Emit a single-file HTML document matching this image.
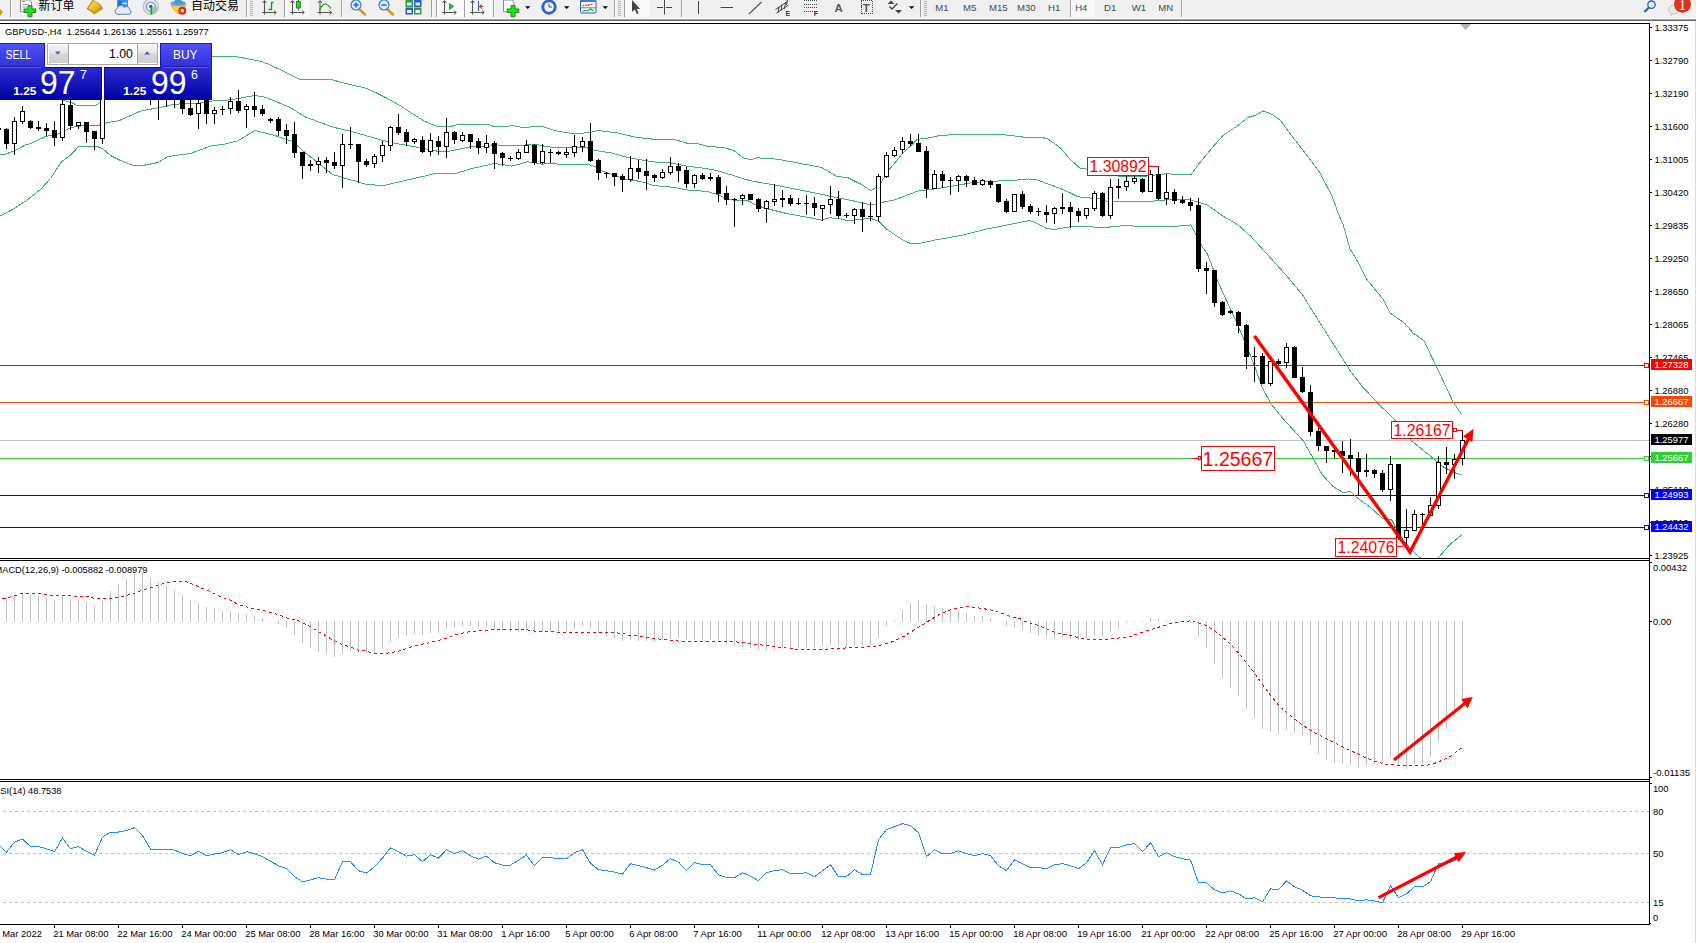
<!DOCTYPE html><html><head><meta charset="utf-8"><title>GBPUSD H4</title>
<style>html,body{margin:0;padding:0;background:#fff;}body{width:1696px;height:943px;overflow:hidden;position:relative;font-family:"Liberation Sans", sans-serif;}svg{position:absolute;left:0;top:0;display:block}text{font-family:"Liberation Sans", sans-serif;}.cj{font-family:"Liberation Sans", "Noto Sans CJK SC", sans-serif;}</style></head><body>
<svg width="1696" height="943" viewBox="0 0 1696 943">
<defs>
<clipPath id="cm"><rect x="0" y="24" width="1649" height="534"/></clipPath>
<clipPath id="cd"><rect x="0" y="561" width="1649" height="218"/></clipPath>
<clipPath id="cr"><rect x="0" y="782" width="1649" height="142"/></clipPath>
<linearGradient id="gs" x1="0" y1="0" x2="0" y2="1"><stop offset="0" stop-color="#5252fa"/><stop offset="1" stop-color="#3030d6"/></linearGradient>
<linearGradient id="gp" x1="0" y1="0" x2="0" y2="1"><stop offset="0" stop-color="#2c2cd2"/><stop offset="1" stop-color="#0000a2"/></linearGradient>
<linearGradient id="gb" x1="0" y1="0" x2="0" y2="1"><stop offset="0" stop-color="#f4f4f4"/><stop offset="0.45" stop-color="#e4e4e4"/><stop offset="0.5" stop-color="#d6d6d6"/><stop offset="1" stop-color="#cfcfcf"/></linearGradient>
</defs>
<rect width="1696" height="943" fill="#fff"/>
<g id="toolbar">
<g shape-rendering="crispEdges">
<rect x="0" y="0" width="1696" height="18" fill="#f0f0f0"/>
<rect x="0" y="18" width="1696" height="1" fill="#f9f9f9"/>
<rect x="0" y="19" width="1696" height="1" fill="#a5a5a5"/>
<rect x="0" y="20" width="1696" height="1" fill="#696969"/>
<rect x="285" y="0" width="24" height="17" fill="#f9f9f9"/>
<rect x="437" y="0" width="27" height="17" fill="#f9f9f9"/>
<rect x="465" y="0" width="27" height="17" fill="#f9f9f9"/>
<rect x="625" y="0" width="25" height="17" fill="#f9f9f9"/>
<rect x="1071" y="0" width="24" height="17" fill="#f9f9f9"/>
<rect x="10" y="0" width="1" height="17" fill="#a0a0a0"/>
<rect x="11" y="0" width="1" height="17" fill="#fafafa"/>
<rect x="246" y="0" width="1" height="17" fill="#a0a0a0"/>
<rect x="247" y="0" width="1" height="17" fill="#fafafa"/>
<rect x="284" y="0" width="1" height="17" fill="#a0a0a0"/>
<rect x="285" y="0" width="1" height="17" fill="#fafafa"/>
<rect x="341" y="0" width="1" height="17" fill="#a0a0a0"/>
<rect x="342" y="0" width="1" height="17" fill="#fafafa"/>
<rect x="431" y="0" width="1" height="17" fill="#a0a0a0"/>
<rect x="432" y="0" width="1" height="17" fill="#fafafa"/>
<rect x="436" y="0" width="1" height="17" fill="#a0a0a0"/>
<rect x="437" y="0" width="1" height="17" fill="#fafafa"/>
<rect x="464" y="0" width="1" height="17" fill="#a0a0a0"/>
<rect x="465" y="0" width="1" height="17" fill="#fafafa"/>
<rect x="493" y="0" width="1" height="17" fill="#a0a0a0"/>
<rect x="494" y="0" width="1" height="17" fill="#fafafa"/>
<rect x="614" y="0" width="1" height="17" fill="#a0a0a0"/>
<rect x="615" y="0" width="1" height="17" fill="#fafafa"/>
<rect x="624" y="0" width="1" height="17" fill="#a0a0a0"/>
<rect x="625" y="0" width="1" height="17" fill="#fafafa"/>
<rect x="681" y="0" width="1" height="17" fill="#a0a0a0"/>
<rect x="682" y="0" width="1" height="17" fill="#fafafa"/>
<rect x="920" y="0" width="1" height="17" fill="#a0a0a0"/>
<rect x="921" y="0" width="1" height="17" fill="#fafafa"/>
<rect x="1070" y="0" width="1" height="17" fill="#a0a0a0"/>
<rect x="1071" y="0" width="1" height="17" fill="#fafafa"/>
<rect x="1181" y="0" width="1" height="17" fill="#a0a0a0"/>
<rect x="1182" y="0" width="1" height="17" fill="#fafafa"/>
<rect x="250" y="1" width="3" height="1" fill="#b4b4b4"/>
<rect x="250" y="3" width="3" height="1" fill="#b4b4b4"/>
<rect x="250" y="5" width="3" height="1" fill="#b4b4b4"/>
<rect x="250" y="7" width="3" height="1" fill="#b4b4b4"/>
<rect x="250" y="9" width="3" height="1" fill="#b4b4b4"/>
<rect x="250" y="11" width="3" height="1" fill="#b4b4b4"/>
<rect x="250" y="13" width="3" height="1" fill="#b4b4b4"/>
<rect x="250" y="15" width="3" height="1" fill="#b4b4b4"/>
<rect x="618" y="1" width="3" height="1" fill="#b4b4b4"/>
<rect x="618" y="3" width="3" height="1" fill="#b4b4b4"/>
<rect x="618" y="5" width="3" height="1" fill="#b4b4b4"/>
<rect x="618" y="7" width="3" height="1" fill="#b4b4b4"/>
<rect x="618" y="9" width="3" height="1" fill="#b4b4b4"/>
<rect x="618" y="11" width="3" height="1" fill="#b4b4b4"/>
<rect x="618" y="13" width="3" height="1" fill="#b4b4b4"/>
<rect x="618" y="15" width="3" height="1" fill="#b4b4b4"/>
<rect x="924" y="1" width="3" height="1" fill="#b4b4b4"/>
<rect x="924" y="3" width="3" height="1" fill="#b4b4b4"/>
<rect x="924" y="5" width="3" height="1" fill="#b4b4b4"/>
<rect x="924" y="7" width="3" height="1" fill="#b4b4b4"/>
<rect x="924" y="9" width="3" height="1" fill="#b4b4b4"/>
<rect x="924" y="11" width="3" height="1" fill="#b4b4b4"/>
<rect x="924" y="13" width="3" height="1" fill="#b4b4b4"/>
<rect x="924" y="15" width="3" height="1" fill="#b4b4b4"/>
</g>
<path d="M0 9L3 12L0 16Z" fill="#c89b1e"/>
<path d="M20.5 0V11.8H31.5V2L29.5 0Z" fill="#fff" stroke="#8a8a8a" stroke-width="1"/>
<path d="M22.5 1.5H25 M22.5 4.5H29 M22.5 7H27 M22.5 9.5H25" stroke="#9a9a9a" stroke-width="1"/>
<path d="M28 5.6h4v3.3h3.8v3.6h-3.8v4.2h-4v-4.2h-3.8v-3.6h3.8z" fill="#22dd22" stroke="#0a8a0a" stroke-width="0.9"/>
<text class="cj" x="38.6" y="9.7" font-size="12" fill="#000">新订单</text>
<defs><linearGradient id="gbk" x1="0" y1="0" x2="1" y2="1"><stop offset="0" stop-color="#b88a10"/><stop offset="0.35" stop-color="#f4cf40"/><stop offset="0.7" stop-color="#e0ac20"/><stop offset="1" stop-color="#a06c08"/></linearGradient></defs>
<path d="M92.7 -0.5L86.8 8.8L94.2 14.8L103 9L100.5 4.2Z" fill="#a87410"/>
<path d="M92.9 0L88 8.3L94.5 12.6L101.6 7.6L99.8 4.3Z" fill="url(#gbk)"/>
<path d="M88.2 9.8L94.3 13.8L102 8.8" stroke="#f0d890" stroke-width="0.9" fill="none"/>
<path d="M117.5 0H128V8H117.5Z" fill="#2f8fe8"/><path d="M117.5 0L121.5 1.5V8H117.5Z" fill="#1a6fd0"/>
<rect x="122.5" y="2.6" width="4.5" height="1.6" fill="#cfe8ff"/>
<path d="M117.2 14.3a3 3 0 0 1-0.3-5.6a4 4 0 0 1 7.3-1.3a3.4 3.4 0 0 1 5.6 2.5a2.4 2.4 0 0 1-0.3 4.4z" fill="#e4ebf6" stroke="#5f80b8" stroke-width="1"/>
<circle cx="150.8" cy="6.7" r="7.4" fill="none" stroke="#a9bfe0" stroke-width="1.3"/>
<circle cx="150.8" cy="6.7" r="4.6" fill="none" stroke="#6f98dc" stroke-width="1.4"/>
<path d="M151.3 14.3A7.5 7.5 0 0 0 158.2 7.5L151.3 7.2Z" fill="#9cc89c"/>
<circle cx="150.8" cy="6.5" r="1.7" fill="#2a5ad0"/>
<path d="M151.3 7V14.6" stroke="#22a022" stroke-width="1.7" fill="none"/>
<path d="M171 5.3L186 5.3L183 10L178.5 14.3L174 10Z" fill="#f4d040" stroke="#d0a010" stroke-width="0.7"/>
<ellipse cx="178.2" cy="3.4" rx="7.8" ry="2.6" fill="#5aa4e4"/><path d="M175.5 -1H181L182.3 3.5H174.2Z" fill="#4a94dc"/>
<circle cx="182.3" cy="10.7" r="4" fill="#dc2818"/><rect x="180.8" y="9.2" width="3" height="3" fill="#fff"/>
<text class="cj" x="191.1" y="9.7" font-size="12" fill="#000">自动交易</text>
<path d="M264.5 1V14.5 M262 12.5H276" stroke="#555" stroke-width="1.1" fill="none"/>
<path d="M262.5 3L264.5 0.5L266.5 3 M274 10.5L276.3 12.5L274 14.5" stroke="#555" stroke-width="1" fill="none"/>
<path d="M268.5 9.5H271.5V2.5H273.5" stroke="#209a20" stroke-width="1.4" fill="none"/>
<path d="M292.5 1V14.5 M290 12.5H304" stroke="#555" stroke-width="1.1" fill="none"/>
<path d="M290.5 3L292.5 0.5L294.5 3 M302 10.5L304.3 12.5L302 14.5" stroke="#555" stroke-width="1" fill="none"/>
<path d="M298.5 0V10.5" stroke="#1a7a1a" stroke-width="1"/><rect x="296.5" y="1.5" width="4" height="6.5" fill="#30d030" stroke="#1a7a1a" stroke-width="0.8"/>
<path d="M320.0 1V14.5 M317.5 12.5H331.5" stroke="#555" stroke-width="1.1" fill="none"/>
<path d="M318.0 3L320.0 0.5L322.0 3 M329.5 10.5L331.8 12.5L329.5 14.5" stroke="#555" stroke-width="1" fill="none"/>
<path d="M319.5 10C322 5 324 3.5 326 4C328 4.5 329 6.5 331 8.5" stroke="#209a20" stroke-width="1.2" fill="none"/>
<path d="M358.5 8.5L365.0 14.5" stroke="#c8a020" stroke-width="2.6" stroke-linecap="round"/>
<circle cx="356.0" cy="5" r="5" fill="#d8ecff" stroke="#3a7ad0" stroke-width="1.2"/>
<path d="M353.5 5H358.5" stroke="#2a62c0" stroke-width="1.5"/>
<path d="M356.0 2.5V7.5" stroke="#2a62c0" stroke-width="1.5"/>
<path d="M386.5 8.5L393.0 14.5" stroke="#c8a020" stroke-width="2.6" stroke-linecap="round"/>
<circle cx="384.0" cy="5" r="5" fill="#d8ecff" stroke="#3a7ad0" stroke-width="1.2"/>
<path d="M381.5 5H386.5" stroke="#2a62c0" stroke-width="1.5"/>
<rect x="405.5" y="0" width="7.5" height="7" fill="#3a9a3a"/><rect x="407.0" y="2.5" width="4.5" height="3" fill="#e8f0ff"/>
<rect x="414" y="0" width="7.5" height="7" fill="#2a5ad0"/><rect x="415.5" y="2.5" width="4.5" height="3" fill="#e8f0ff"/>
<rect x="405.5" y="7.5" width="7.5" height="7" fill="#2a5ad0"/><rect x="407.0" y="10.0" width="4.5" height="3" fill="#e8f0ff"/>
<rect x="414" y="7.5" width="7.5" height="7" fill="#3a9a3a"/><rect x="415.5" y="10.0" width="4.5" height="3" fill="#e8f0ff"/>
<path d="M444.5 1V14.5 M442 12.5H456" stroke="#555" stroke-width="1.1" fill="none"/>
<path d="M442.5 3L444.5 0.5L446.5 3 M454 10.5L456.3 12.5L454 14.5" stroke="#555" stroke-width="1" fill="none"/>
<path d="M449.5 3.5L453.5 6.5L449.5 9.5Z" fill="#30c030" stroke="#1a8a1a" stroke-width="0.8"/>
<path d="M472.5 1V14.5 M470 12.5H484" stroke="#555" stroke-width="1.1" fill="none"/>
<path d="M470.5 3L472.5 0.5L474.5 3 M482 10.5L484.3 12.5L482 14.5" stroke="#555" stroke-width="1" fill="none"/>
<path d="M478.5 1V11" stroke="#2a6ad0" stroke-width="1.2"/><path d="M483.5 6.5H480 M482 4.5L479.5 6.5L482 8.5" stroke="#d84010" stroke-width="1.1" fill="none"/>
<path d="M503.5 0V11.8H514V2L512 0Z" fill="#fff" stroke="#8a8a8a" stroke-width="1"/>
<path d="M511 5.6h4v3.3h3.8v3.6h-3.8v4.2h-4v-4.2h-3.8v-3.6h3.8z" fill="#22dd22" stroke="#0a8a0a" stroke-width="0.9"/>
<path d="M525 6.2H530.4L527.7 9Z" fill="#000"/>
<path d="M564 6.2H569.4L566.7 9Z" fill="#000"/>
<path d="M602.6 6.2H608.0L605.3000000000001 9Z" fill="#000"/>
<path d="M908.9 6.2H914.3L911.6 9Z" fill="#000"/>
<circle cx="549" cy="7" r="7.2" fill="#2a6ad8" stroke="#1a4aa8" stroke-width="0.8"/><circle cx="549" cy="7" r="4.8" fill="#f4f8ff"/>
<path d="M549 3.5V7H552" stroke="#444" stroke-width="1" fill="none"/>
<rect x="580.5" y="0" width="15.5" height="13" rx="1" fill="#fff" stroke="#2a5ab8" stroke-width="1"/><rect x="581" y="0" width="14.5" height="2" fill="#3a7ae0"/>
<path d="M582.5 6L585 5L587.5 5.5L590 4.5L593.5 4" stroke="#c03010" stroke-width="1.1" fill="none" stroke-dasharray="2,0.8"/>
<path d="M581 7.8H595.5" stroke="#2a5ab8" stroke-width="0.8"/>
<path d="M582.5 11.5L585 10.5L587.5 11L590.5 9L593.5 11" stroke="#20a020" stroke-width="1.1" fill="none"/>
<path d="M632 0V12L634.8 9.6L636.8 14L638.6 13.2L636.7 8.9H640.2Z" fill="#444"/>
<path d="M664.5 0V14.5 M657 7.5H663 M666 7.5H672" stroke="#444" stroke-width="1"/>
<path d="M698.5 1V14" stroke="#444" stroke-width="1"/>
<path d="M720.5 7.5H733" stroke="#444" stroke-width="1"/>
<path d="M749 14L761.5 2" stroke="#555" stroke-width="1.1"/>
<path d="M775.5 9.5L787.5 1.5 M776.5 13L788.5 5 M779 6.5L778 13 M782 4.5L781 11 M785.5 2.5L784.5 9 M787.5 0L786.5 5" stroke="#444" stroke-width="1" fill="none"/>
<text x="785.6" y="16" font-size="7" font-weight="bold" fill="#333">E</text>
<path d="M804 0.5H817" stroke="#444" stroke-width="1" stroke-dasharray="1,1" shape-rendering="crispEdges"/>
<path d="M804 4.5H817" stroke="#444" stroke-width="1" stroke-dasharray="1,1" shape-rendering="crispEdges"/>
<path d="M804 7.5H817" stroke="#444" stroke-width="1" stroke-dasharray="1,1" shape-rendering="crispEdges"/>
<path d="M804 11.5H817" stroke="#444" stroke-width="1" stroke-dasharray="1,1" shape-rendering="crispEdges"/>
<text x="813.8" y="16" font-size="7" font-weight="bold" fill="#333">F</text>
<text x="834.6" y="12" font-size="11.5" font-weight="bold" fill="#5a5a5a">A</text>
<rect x="861" y="0.5" width="11.5" height="13" fill="none" stroke="#444" stroke-width="1" stroke-dasharray="1,1" shape-rendering="crispEdges"/>
<text x="862.7" y="11.5" font-size="11.5" font-weight="bold" fill="#555">T</text>
<path d="M891 0.5L894.5 4H887.5Z M898.5 13.5L895 10H902Z" fill="#444"/><path d="M889.5 6.5L892 9L897.5 3.5" stroke="#444" stroke-width="1.4" fill="none"/>
<text x="935.2" y="11" font-size="9.6" fill="#4a4a4a">M1</text>
<text x="963" y="11" font-size="9.6" fill="#4a4a4a">M5</text>
<text x="989" y="11" font-size="9.6" fill="#4a4a4a">M15</text>
<text x="1017" y="11" font-size="9.6" fill="#4a4a4a">M30</text>
<text x="1048" y="11" font-size="9.6" fill="#4a4a4a">H1</text>
<text x="1075.2" y="11" font-size="9.6" fill="#4a4a4a">H4</text>
<text x="1104" y="11" font-size="9.6" fill="#4a4a4a">D1</text>
<text x="1131.8" y="11" font-size="9.6" fill="#4a4a4a">W1</text>
<text x="1158.2" y="11" font-size="9.6" fill="#4a4a4a">MN</text>
<circle cx="1651.5" cy="4.7" r="3.7" fill="none" stroke="#2a5ad0" stroke-width="1.3"/><path d="M1649 7.5L1644.3 12" stroke="#2a5ad0" stroke-width="2.2"/>
<path d="M1668.5 9.5a5.5 4.5 0 0 1 11 0a5.5 4.5 0 0 1-7 4.2l-1.5 1.8v-2.2a5 4 0 0 1-2.5-3.8z" fill="#e6e6ee" stroke="#b8b8c4" stroke-width="0.8"/>
<circle cx="1682.5" cy="4.3" r="8.5" fill="#dc3220"/>
<text x="1678.8" y="9.6" font-size="14.5" fill="#fff" style="font-family:'Liberation Serif',serif">1</text>
</g>
<g shape-rendering="crispEdges" fill="#000">
<rect x="0" y="23" width="1650" height="1"/>
<rect x="1649" y="23" width="1" height="902"/>
<rect x="0" y="558" width="1650" height="1"/>
<rect x="0" y="560" width="1650" height="1"/>
<rect x="0" y="779" width="1650" height="1"/>
<rect x="0" y="781" width="1650" height="1"/>
<rect x="0" y="924" width="1650" height="1"/>
</g>
<rect x="1695" y="21" width="1" height="922" fill="#dcdcdc" shape-rendering="crispEdges"/>
<g clip-path="url(#cm)" shape-rendering="crispEdges">
<rect x="0" y="365" width="1649" height="1" fill="#ff0000"/>
<rect x="0" y="402" width="1649" height="1" fill="#ff4500"/>
<rect x="0" y="440" width="1649" height="1" fill="#c0c0c0"/>
<rect x="0" y="458" width="1649" height="1" fill="#32cd32"/>
<rect x="0" y="495" width="1649" height="1" fill="#0000ff"/>
<rect x="0" y="527" width="1649" height="1" fill="#0000ff"/>
<polyline points="0.5,98.5 60.5,99.5 72.5,103.0 78.0,105.9 94.9,105.9 99.2,103.0 110.5,90.5 150.5,70.5 190.5,58.5 212.5,56.5 234.2,56.2 262.5,61.7 282.5,70.7 300.5,79.8 304.5,79.9 332.5,79.9 345.5,83.5 367.5,88.6 385.5,97.5 400.0,105.5 410.5,112.5 424.2,121.1 438.2,126.8 449.5,126.8 459.5,124.2 488.2,124.2 494.5,126.8 505.5,126.8 512.0,125.5 524.5,127.8 532.0,126.8 543.2,126.8 554.5,130.5 574.5,134.0 590.5,132.4 598.2,130.5 618.2,133.0 636.2,137.4 651.5,139.0 672.5,139.0 686.5,143.0 695.5,143.0 706.5,146.1 724.0,147.8 734.0,150.5 742.5,157.4 750.5,159.9 756.5,157.8 777.5,159.2 799.0,163.2 821.5,167.4 836.5,176.1 848.5,178.0 861.0,184.2 871.0,190.8 875.5,187.4 881.0,182.4 889.5,169.2 902.5,153.5 917.5,139.2 926.0,138.5 938.5,135.8 961.0,134.0 994.5,134.0 1011.0,135.5 1028.5,137.8 1041.0,137.0 1048.5,139.2 1060.5,148.0 1068.0,156.8 1079.2,167.8 1087.5,169.2 1100.5,172.5 1120.5,176.5 1140.5,177.0 1150.5,175.5 1161.5,174.2 1170.5,173.5 1171.5,174.9 1191.1,174.5 1198.0,164.9 1200.5,161.8 1213.0,146.8 1223.0,135.5 1238.0,125.5 1248.0,117.4 1255.5,115.5 1263.0,110.8 1271.8,114.2 1280.5,120.5 1290.5,134.2 1304.2,151.8 1319.2,171.8 1331.8,195.5 1338.0,213.0 1343.0,224.2 1349.9,248.5 1359.2,264.2 1366.8,279.2 1383.0,299.2 1390.0,313.0 1405.0,323.5 1412.5,332.4 1424.2,341.1 1443.0,380.5 1453.0,401.8 1461.8,414.9" fill="none" stroke="#3cb371" stroke-width="1"/>
<polyline points="0.5,154.9 5.5,154.2 15.0,150.5 25.5,144.9 31.5,143.2 46.5,136.1 54.5,135.5 70.5,128.0 78.0,126.1 98.0,125.5 106.5,122.8 119.5,120.5 140.5,111.1 159.5,107.5 174.5,104.2 200.5,103.0 215.0,100.5 225.0,100.5 237.5,98.6 255.0,95.5 263.8,96.8 275.0,101.1 290.0,107.4 305.0,116.8 333.8,127.4 350.0,131.1 387.5,141.8 424.2,148.6 437.0,151.1 449.5,151.1 470.5,146.8 489.5,146.1 494.5,143.5 499.5,145.5 522.0,145.5 528.5,144.5 537.0,144.5 547.0,146.8 562.0,148.0 574.5,147.4 585.5,147.4 595.5,150.5 612.0,153.0 624.5,156.8 636.2,159.0 652.5,161.8 672.5,163.2 686.5,166.1 706.5,168.5 716.5,170.5 731.5,174.9 749.0,180.5 774.0,184.9 799.0,189.9 824.0,194.9 848.5,199.9 871.0,204.9 875.5,204.2 883.5,202.0 894.5,199.9 918.5,190.8 928.5,189.9 951.0,186.4 973.5,182.4 996.0,181.1 1011.0,180.5 1028.5,179.0 1036.0,179.5 1048.5,184.2 1060.5,188.5 1070.5,193.0 1078.0,196.8 1091.5,198.2 1101.5,199.2 1106.5,201.1 1120.5,201.1 1140.5,202.0 1148.0,201.1 1160.5,200.9 1168.0,199.2 1189.2,199.9 1198.0,201.8 1208.0,205.5 1223.0,216.1 1238.0,224.9 1250.5,236.1 1266.5,253.5 1288.0,277.4 1303.0,295.5 1306.0,300.5 1320.0,323.0 1337.5,350.5 1350.0,370.5 1362.5,386.8 1378.8,404.2 1393.0,418.0 1411.8,441.1 1418.0,446.1 1434.2,459.2 1443.0,466.8 1455.5,473.0 1461.8,474.9" fill="none" stroke="#3cb371" stroke-width="1"/>
<polyline points="0.5,215.8 12.5,209.5 26.5,200.5 40.5,189.5 50.5,178.5 61.5,161.8 70.5,154.9 78.5,146.8 98.0,146.8 103.0,148.9 110.5,155.5 120.5,160.5 133.0,165.5 143.0,165.5 158.0,162.5 168.0,156.5 190.5,153.5 212.5,145.5 223.5,144.5 238.5,140.5 255.0,130.5 275.0,135.5 292.5,141.5 305.0,152.5 332.5,174.5 366.5,184.5 383.5,185.5 424.2,176.1 435.5,173.5 455.5,173.5 472.0,168.5 494.5,163.5 512.0,166.1 519.5,164.2 527.0,161.8 533.5,162.5 542.0,164.2 553.5,163.0 557.0,164.0 587.0,164.0 595.5,166.8 602.0,171.1 612.0,174.2 624.5,179.2 636.5,180.8 644.0,182.4 654.0,185.5 674.0,187.4 686.5,189.9 706.5,191.4 716.5,194.2 724.0,197.4 731.5,199.9 739.0,200.5 742.5,199.9 749.0,201.1 756.5,205.5 766.5,208.5 786.5,213.5 811.5,218.0 821.5,220.2 829.0,217.8 839.0,218.5 848.5,220.8 861.0,219.2 871.0,218.5 878.5,221.1 887.5,229.9 902.5,239.9 909.5,243.0 921.0,243.0 936.0,239.9 961.0,235.5 986.0,229.2 1011.0,224.2 1028.5,220.8 1032.5,221.1 1046.0,228.2 1053.5,229.5 1060.5,228.5 1074.5,226.1 1090.5,226.8 1103.0,228.0 1115.5,226.1 1130.5,225.8 1148.0,227.0 1163.0,226.5 1185.5,225.8 1191.1,224.9 1195.5,234.2 1201.5,245.5 1207.5,254.2 1213.0,268.5 1218.0,281.8 1226.5,300.5 1236.2,321.8 1245.0,341.8 1253.8,364.2 1262.5,388.0 1271.2,404.2 1282.5,418.0 1290.5,426.8 1303.0,440.5 1313.0,458.0 1321.8,474.0 1333.0,486.5 1343.0,492.5 1350.5,491.5 1356.8,497.5 1370.5,507.5 1383.0,518.8 1391.8,520.0 1395.5,527.5 1403.5,540.5 1413.0,551.2 1420.5,558.1 1428.5,562.5 1438.0,558.1 1450.5,543.8 1462.4,534.5" fill="none" stroke="#3cb371" stroke-width="1"/>
<rect x="0" y="128" width="1" height="2" fill="#000"/>
<path d="M6 128h1v21h-1zM4 129h5v15h-5zM14 117h1v38h-1zM12 121h5v23h-5zM22 106h1v18h-1zM20 111h5v11h-5zM30 120h1v9h-1zM28 121h5v7h-5zM38 121h1v10h-1zM36 127h5v2h-5zM46 123h1v13h-1zM44 128h5v3h-5zM54 121h1v25h-1zM52 130h5v8h-5zM62 92h1v49h-1zM60 104h5v34h-5zM70 92h1v38h-1zM68 105h5v21h-5zM78 122h1v7h-1zM76 122h5v4h-5zM86 122h1v21h-1zM84 122h5v10h-5zM94 131h1v19h-1zM92 131h5v8h-5zM102 85h1v59h-1zM100 90h5v49h-5zM110 70h1v26h-1zM108 78h5v12h-5zM118 66h1v22h-1zM116 72h5v8h-5zM126 68h1v22h-1zM124 74h5v8h-5zM134 70h1v22h-1zM132 76h5v8h-5zM142 74h1v24h-1zM140 80h5v10h-5zM150 84h1v21h-1zM148 88h5v8h-5zM158 88h1v32h-1zM156 92h5v6h-5zM166 90h1v17h-1zM164 93h5v5h-5zM174 90h1v18h-1zM172 94h5v5h-5zM182 95h1v19h-1zM180 98h5v11h-5zM190 98h1v18h-1zM188 108h5v7h-5zM198 98h1v31h-1zM196 103h5v11h-5zM206 95h1v29h-1zM204 98h5v16h-5zM214 107h1v17h-1zM212 110h5v4h-5zM222 106h1v9h-1zM220 109h5v1h-5zM230 97h1v17h-1zM228 101h5v8h-5zM238 90h1v23h-1zM236 101h5v10h-5zM246 104h1v24h-1zM244 106h5v4h-5zM254 92h1v25h-1zM252 106h5v4h-5zM262 105h1v11h-1zM260 109h5v5h-5zM270 118h1v5h-1zM268 119h5v2h-5zM278 117h1v19h-1zM276 119h5v12h-5zM286 124h1v20h-1zM284 130h5v6h-5zM294 122h1v36h-1zM292 134h5v19h-5zM302 152h1v27h-1zM300 152h5v14h-5zM310 160h1v11h-1zM308 164h5v2h-5zM318 157h1v16h-1zM316 161h5v4h-5zM326 157h1v16h-1zM324 160h5v3h-5zM334 152h1v17h-1zM332 162h5v4h-5zM342 134h1v54h-1zM340 144h5v22h-5zM350 127h1v22h-1zM348 144h5v1h-5zM358 144h1v39h-1zM356 144h5v18h-5zM366 159h1v8h-1zM364 161h5v4h-5zM374 154h1v14h-1zM372 156h5v8h-5zM382 141h1v21h-1zM380 145h5v11h-5zM390 126h1v25h-1zM388 127h5v19h-5zM398 114h1v21h-1zM396 127h5v6h-5zM406 129h1v17h-1zM404 132h5v10h-5zM414 138h1v6h-1zM412 139h5v3h-5zM422 136h1v17h-1zM420 140h5v12h-5zM430 133h1v23h-1zM428 140h5v12h-5zM438 136h1v19h-1zM436 141h5v6h-5zM446 118h1v40h-1zM444 132h5v15h-5zM454 131h1v13h-1zM452 132h5v8h-5zM462 132h1v10h-1zM460 135h5v6h-5zM470 134h1v15h-1zM468 134h5v8h-5zM478 138h1v16h-1zM476 141h5v7h-5zM486 135h1v18h-1zM484 143h5v5h-5zM494 141h1v28h-1zM492 143h5v11h-5zM502 152h1v14h-1zM500 153h5v5h-5zM510 156h1v5h-1zM508 158h5v1h-5zM518 149h1v11h-1zM516 152h5v7h-5zM526 140h1v13h-1zM524 145h5v8h-5zM534 144h1v21h-1zM532 145h5v18h-5zM542 144h1v20h-1zM540 151h5v12h-5zM550 149h1v14h-1zM548 152h5v1h-5zM558 151h1v4h-1zM556 152h5v2h-5zM566 148h1v10h-1zM564 152h5v3h-5zM574 135h1v22h-1zM572 146h5v7h-5zM582 137h1v15h-1zM580 141h5v6h-5zM590 123h1v39h-1zM588 141h5v20h-5zM598 159h1v21h-1zM596 160h5v13h-5zM606 172h1v6h-1zM604 173h5v1h-5zM614 173h1v13h-1zM612 173h5v4h-5zM622 174h1v18h-1zM620 176h5v4h-5zM630 156h1v26h-1zM628 168h5v12h-5zM638 160h1v19h-1zM636 168h5v4h-5zM646 159h1v31h-1zM644 171h5v5h-5zM654 174h1v8h-1zM652 175h5v3h-5zM662 169h1v10h-1zM660 172h5v6h-5zM670 157h1v18h-1zM668 166h5v7h-5zM678 163h1v19h-1zM676 166h5v5h-5zM686 167h1v21h-1zM684 170h5v14h-5zM694 174h1v14h-1zM692 175h5v9h-5zM702 173h1v7h-1zM700 175h5v4h-5zM710 173h1v8h-1zM708 177h5v2h-5zM718 175h1v27h-1zM716 177h5v17h-5zM726 186h1v19h-1zM724 193h5v7h-5zM734 198h1v29h-1zM732 199h5v1h-5zM742 194h1v11h-1zM740 195h5v4h-5zM750 194h1v6h-1zM748 194h5v6h-5zM758 198h1v14h-1zM756 199h5v10h-5zM766 200h1v23h-1zM764 201h5v8h-5zM774 184h1v22h-1zM772 199h5v3h-5zM782 190h1v17h-1zM780 198h5v2h-5zM790 195h1v11h-1zM788 198h5v6h-5zM798 198h1v7h-1zM796 203h5v1h-5zM806 195h1v20h-1zM804 203h5v1h-5zM814 197h1v19h-1zM812 203h5v5h-5zM822 205h1v16h-1zM820 205h5v4h-5zM830 186h1v28h-1zM828 199h5v6h-5zM838 191h1v27h-1zM836 199h5v17h-5zM846 213h1v5h-1zM844 215h5v1h-5zM854 208h1v16h-1zM852 209h5v7h-5zM862 202h1v30h-1zM860 209h5v8h-5zM870 202h1v19h-1zM868 216h5v1h-5zM878 174h1v48h-1zM876 176h5v41h-5zM886 152h1v26h-1zM884 155h5v22h-5zM894 147h1v10h-1zM892 150h5v6h-5zM902 137h1v17h-1zM900 141h5v9h-5zM910 134h1v12h-1zM908 141h5v3h-5zM918 134h1v18h-1zM916 143h5v9h-5zM926 146h1v52h-1zM924 151h5v38h-5zM934 170h1v19h-1zM932 174h5v15h-5zM942 171h1v17h-1zM940 174h5v7h-5zM950 177h1v18h-1zM948 180h5v1h-5zM958 175h1v17h-1zM956 176h5v5h-5zM966 175h1v12h-1zM964 176h5v5h-5zM974 177h1v8h-1zM972 180h5v5h-5zM982 179h1v7h-1zM980 180h5v5h-5zM990 180h1v8h-1zM988 181h5v4h-5zM998 184h1v19h-1zM996 184h5v18h-5zM1006 199h1v14h-1zM1004 201h5v11h-5zM1014 194h1v18h-1zM1012 194h5v18h-5zM1022 191h1v18h-1zM1020 194h5v13h-5zM1030 204h1v10h-1zM1028 206h5v6h-5zM1038 208h1v8h-1zM1036 211h5v1h-5zM1046 205h1v18h-1zM1044 212h5v3h-5zM1054 207h1v17h-1zM1052 208h5v6h-5zM1062 193h1v21h-1zM1060 207h5v2h-5zM1070 202h1v26h-1zM1068 207h5v5h-5zM1078 208h1v14h-1zM1076 211h5v5h-5zM1086 208h1v11h-1zM1084 208h5v8h-5zM1094 191h1v20h-1zM1092 193h5v16h-5zM1102 192h1v25h-1zM1100 193h5v23h-5zM1110 179h1v40h-1zM1108 187h5v29h-5zM1118 179h1v20h-1zM1116 186h5v2h-5zM1126 176h1v15h-1zM1124 181h5v6h-5zM1134 176h1v8h-1zM1132 178h5v4h-5zM1142 178h1v15h-1zM1140 179h5v13h-5zM1150 170h1v22h-1zM1148 174h5v18h-5zM1158 166h1v34h-1zM1156 174h5v25h-5zM1166 174h1v31h-1zM1164 192h5v7h-5zM1174 189h1v15h-1zM1172 192h5v9h-5zM1182 196h1v8h-1zM1180 200h5v3h-5zM1190 198h1v13h-1zM1188 202h5v4h-5zM1198 198h1v74h-1zM1196 205h5v64h-5zM1206 262h1v32h-1zM1204 268h5v3h-5zM1214 270h1v37h-1zM1212 270h5v33h-5zM1222 301h1v15h-1zM1220 302h5v13h-5zM1230 310h1v4h-1zM1228 311h5v2h-5zM1238 311h1v22h-1zM1236 312h5v14h-5zM1246 324h1v45h-1zM1244 325h5v32h-5zM1254 347h1v35h-1zM1252 356h5v1h-5zM1262 353h1v31h-1zM1260 356h5v28h-5zM1270 361h1v25h-1zM1268 361h5v23h-5zM1278 359h1v6h-1zM1276 361h5v3h-5zM1286 343h1v25h-1zM1284 347h5v16h-5zM1294 346h1v32h-1zM1292 347h5v31h-5zM1302 367h1v26h-1zM1300 377h5v15h-5zM1310 385h1v51h-1zM1308 392h5v40h-5zM1318 428h1v23h-1zM1316 431h5v15h-5zM1326 446h1v17h-1zM1324 446h5v5h-5zM1334 449h1v9h-1zM1332 450h5v2h-5zM1342 441h1v32h-1zM1340 451h5v5h-5zM1350 439h1v37h-1zM1348 455h5v4h-5zM1358 452h1v43h-1zM1356 458h5v14h-5zM1366 454h1v23h-1zM1364 470h5v2h-5zM1374 469h1v9h-1zM1372 470h5v4h-5zM1382 470h1v22h-1zM1380 473h5v17h-5zM1390 456h1v45h-1zM1388 464h5v26h-5zM1398 464h1v76h-1zM1396 464h5v74h-5zM1406 509h1v36h-1zM1404 530h5v8h-5zM1414 510h1v21h-1zM1412 514h5v17h-5zM1422 513h1v15h-1zM1420 514h5v1h-5zM1430 497h1v19h-1zM1428 505h5v11h-5zM1438 456h1v53h-1zM1436 462h5v44h-5zM1446 447h1v27h-1zM1444 462h5v3h-5zM1454 454h1v25h-1zM1452 459h5v6h-5zM1462 430h1v35h-1zM1460 440h5v19h-5z" fill="#000"/>
<path d="M13 122h3v21h-3zM21 112h3v9h-3zM61 105h3v32h-3zM77 123h3v2h-3zM101 91h3v47h-3zM109 79h3v10h-3zM125 75h3v6h-3zM165 94h3v3h-3zM197 104h3v9h-3zM213 111h3v2h-3zM229 102h3v6h-3zM245 107h3v2h-3zM317 162h3v2h-3zM341 145h3v20h-3zM373 157h3v6h-3zM381 146h3v9h-3zM389 128h3v17h-3zM413 140h3v1h-3zM429 141h3v10h-3zM445 133h3v13h-3zM461 136h3v4h-3zM485 144h3v3h-3zM517 153h3v5h-3zM525 146h3v6h-3zM541 152h3v10h-3zM565 153h3v1h-3zM573 147h3v5h-3zM581 142h3v4h-3zM629 169h3v10h-3zM661 173h3v4h-3zM669 167h3v5h-3zM693 176h3v7h-3zM741 196h3v2h-3zM765 202h3v6h-3zM773 200h3v1h-3zM821 206h3v2h-3zM829 200h3v4h-3zM853 210h3v5h-3zM877 177h3v39h-3zM885 156h3v20h-3zM893 151h3v4h-3zM901 142h3v7h-3zM933 175h3v13h-3zM957 177h3v3h-3zM981 181h3v3h-3zM1013 195h3v16h-3zM1053 209h3v4h-3zM1085 209h3v6h-3zM1093 194h3v14h-3zM1109 188h3v27h-3zM1125 182h3v4h-3zM1133 179h3v2h-3zM1149 175h3v16h-3zM1165 193h3v5h-3zM1269 362h3v21h-3zM1285 348h3v14h-3zM1389 465h3v24h-3zM1405 531h3v6h-3zM1413 515h3v15h-3zM1429 506h3v9h-3zM1437 463h3v42h-3zM1453 460h3v4h-3zM1461 441h3v17h-3z" fill="#fff"/>
</g>
<g shape-rendering="crispEdges">
<rect x="1644.5" y="363.5" width="4" height="4" fill="#fff" stroke="#ff0000" stroke-width="1"/>
<rect x="1644.5" y="400.5" width="4" height="4" fill="#fff" stroke="#ff4500" stroke-width="1"/>
<rect x="1644.5" y="456.5" width="4" height="4" fill="#fff" stroke="#32cd32" stroke-width="1"/>
<rect x="1644.5" y="493.5" width="4" height="4" fill="#fff" stroke="#0000ff" stroke-width="1"/>
<rect x="1644.5" y="525.5" width="4" height="4" fill="#fff" stroke="#0000ff" stroke-width="1"/>
</g>
<g stroke="#ff0000" stroke-width="3.4" stroke-linecap="butt" fill="#ff0000" clip-path="url(#cm)">
<polyline points="1254.5,336 1410,552 1469,438" fill="none" stroke-linejoin="miter"/>
</g>
<polygon points="1473.5,428.8 1472.4,442 1463,436.6" fill="#ff0000"/>
<rect x="1087.5" y="157.5" width="61" height="18" fill="#fff" stroke="#ff0000" stroke-width="1" shape-rendering="crispEdges"/>
<text x="1089.5" y="172.4" font-size="15.8" fill="#ff0000">1.30892</text>
<path d="M1149 166.5H1158.5" stroke="#f00" stroke-width="1" shape-rendering="crispEdges"/>
<rect x="1391.5" y="421.5" width="61" height="17" fill="#fff" stroke="#ff0000" stroke-width="1" shape-rendering="crispEdges"/>
<text x="1393.5" y="436.2" font-size="15.8" fill="#ff0000">1.26167</text>
<rect x="1453.5" y="428.5" width="3" height="3" fill="#fff" stroke="#f00" shape-rendering="crispEdges"/>
<path d="M1457 430.5H1462.5" stroke="#f00" stroke-width="1" shape-rendering="crispEdges"/>
<rect x="1335.5" y="538.5" width="61" height="18" fill="#fff" stroke="#ff0000" stroke-width="1" shape-rendering="crispEdges"/>
<text x="1337.5" y="553.3" font-size="15.8" fill="#ff0000">1.24076</text>
<path d="M1397 546.5H1403" stroke="#f00" stroke-width="1" shape-rendering="crispEdges"/>
<rect x="1201.5" y="446.5" width="73" height="24" fill="#fff" stroke="#ff0000" stroke-width="1" shape-rendering="crispEdges"/>
<text x="1202.6" y="465.6" font-size="20.3" fill="#ff0000" textLength="70.6" lengthAdjust="spacingAndGlyphs">1.25667</text>
<path d="M1191 458.5H1198" stroke="#f00" stroke-width="1" shape-rendering="crispEdges"/>
<rect x="1198.5" y="456.5" width="2" height="3" fill="#fff" stroke="#f00" shape-rendering="crispEdges"/>
<polygon points="1460,24 1471,24 1465.5,30" fill="#b4b4b4"/>
<g shape-rendering="crispEdges" fill="#000">
<rect x="1650" y="27" width="2" height="1"/>
<rect x="1650" y="60" width="2" height="1"/>
<rect x="1650" y="93" width="2" height="1"/>
<rect x="1650" y="126" width="2" height="1"/>
<rect x="1650" y="159" width="2" height="1"/>
<rect x="1650" y="192" width="2" height="1"/>
<rect x="1650" y="225" width="2" height="1"/>
<rect x="1650" y="258" width="2" height="1"/>
<rect x="1650" y="291" width="2" height="1"/>
<rect x="1650" y="324" width="2" height="1"/>
<rect x="1650" y="357" width="2" height="1"/>
<rect x="1650" y="390" width="2" height="1"/>
<rect x="1650" y="423" width="2" height="1"/>
<rect x="1650" y="456" width="2" height="1"/>
<rect x="1650" y="489" width="2" height="1"/>
<rect x="1650" y="522" width="2" height="1"/>
<rect x="1650" y="555" width="2" height="1"/>
</g>
<g font-size="9.9" fill="#000">
<text x="1654.5" y="30.9" textLength="34.0" lengthAdjust="spacingAndGlyphs">1.33375</text>
<text x="1654.5" y="63.9" textLength="34.0" lengthAdjust="spacingAndGlyphs">1.32790</text>
<text x="1654.5" y="96.9" textLength="34.0" lengthAdjust="spacingAndGlyphs">1.32190</text>
<text x="1654.5" y="129.9" textLength="34.0" lengthAdjust="spacingAndGlyphs">1.31600</text>
<text x="1654.5" y="162.9" textLength="34.0" lengthAdjust="spacingAndGlyphs">1.31005</text>
<text x="1654.5" y="195.9" textLength="34.0" lengthAdjust="spacingAndGlyphs">1.30420</text>
<text x="1654.5" y="228.9" textLength="34.0" lengthAdjust="spacingAndGlyphs">1.29835</text>
<text x="1654.5" y="261.9" textLength="34.0" lengthAdjust="spacingAndGlyphs">1.29250</text>
<text x="1654.5" y="294.9" textLength="34.0" lengthAdjust="spacingAndGlyphs">1.28650</text>
<text x="1654.5" y="327.9" textLength="34.0" lengthAdjust="spacingAndGlyphs">1.28065</text>
<text x="1654.5" y="360.9" textLength="34.0" lengthAdjust="spacingAndGlyphs">1.27465</text>
<text x="1654.5" y="393.9" textLength="34.0" lengthAdjust="spacingAndGlyphs">1.26880</text>
<text x="1654.5" y="426.9" textLength="34.0" lengthAdjust="spacingAndGlyphs">1.26280</text>
<text x="1654.5" y="459.9" textLength="34.0" lengthAdjust="spacingAndGlyphs">1.25695</text>
<text x="1654.5" y="492.9" textLength="34.0" lengthAdjust="spacingAndGlyphs">1.25110</text>
<text x="1654.5" y="525.9" textLength="34.0" lengthAdjust="spacingAndGlyphs">1.24510</text>
<text x="1654.5" y="558.9" textLength="34.0" lengthAdjust="spacingAndGlyphs">1.23925</text>
</g>
<rect x="1651" y="359" width="41" height="11" fill="#ff0000" shape-rendering="crispEdges"/>
<text x="1654.5" y="368.4" font-size="9.9" fill="#fff" textLength="34.0" lengthAdjust="spacingAndGlyphs">1.27328</text>
<rect x="1651" y="396" width="41" height="11" fill="#ff4500" shape-rendering="crispEdges"/>
<text x="1654.5" y="405.4" font-size="9.9" fill="#fff" textLength="34.0" lengthAdjust="spacingAndGlyphs">1.26667</text>
<rect x="1651" y="434" width="41" height="11" fill="#000000" shape-rendering="crispEdges"/>
<text x="1654.5" y="443.4" font-size="9.9" fill="#fff" textLength="34.0" lengthAdjust="spacingAndGlyphs">1.25977</text>
<rect x="1651" y="452" width="41" height="11" fill="#32cd32" shape-rendering="crispEdges"/>
<text x="1654.5" y="461.4" font-size="9.9" fill="#fff" textLength="34.0" lengthAdjust="spacingAndGlyphs">1.25667</text>
<rect x="1651" y="489" width="41" height="11" fill="#0000ff" shape-rendering="crispEdges"/>
<text x="1654.5" y="498.4" font-size="9.9" fill="#fff" textLength="34.0" lengthAdjust="spacingAndGlyphs">1.24993</text>
<rect x="1651" y="521" width="41" height="11" fill="#0000ff" shape-rendering="crispEdges"/>
<text x="1654.5" y="530.4" font-size="9.9" fill="#fff" textLength="34.0" lengthAdjust="spacingAndGlyphs">1.24432</text>
<text x="5" y="35" font-size="9.9" fill="#000" textLength="203.7" lengthAdjust="spacingAndGlyphs">GBPUSD-,H4&#160; 1.25644 1.26136 1.25561 1.25977</text>
<g clip-path="url(#cd)" shape-rendering="crispEdges">
<path d="M6 597h1v25h-1zM14 596h1v26h-1zM22 594h1v28h-1zM30 594h1v28h-1zM38 596h1v26h-1zM46 598h1v24h-1zM54 601h1v21h-1zM62 597h1v25h-1zM70 598h1v24h-1zM78 599h1v23h-1zM86 602h1v20h-1zM94 606h1v16h-1zM102 600h1v22h-1zM110 591h1v31h-1zM118 585h1v37h-1zM126 579h1v43h-1zM134 574h1v48h-1zM142 573h1v49h-1zM150 578h1v44h-1zM158 582h1v40h-1zM166 586h1v36h-1zM174 590h1v32h-1zM182 595h1v27h-1zM190 601h1v21h-1zM198 603h1v19h-1zM206 607h1v15h-1zM214 609h1v13h-1zM222 611h1v11h-1zM230 611h1v11h-1zM238 613h1v9h-1zM246 614h1v8h-1zM254 616h1v6h-1zM262 618h1v4h-1zM278 621h1v3h-1zM286 621h1v7h-1zM294 621h1v14h-1zM302 621h1v22h-1zM310 621h1v27h-1zM318 621h1v31h-1zM326 621h1v33h-1zM334 621h1v36h-1zM342 621h1v33h-1zM350 621h1v30h-1zM358 621h1v31h-1zM366 621h1v32h-1zM374 621h1v32h-1zM382 621h1v28h-1zM390 621h1v21h-1zM398 621h1v17h-1zM406 621h1v15h-1zM414 621h1v13h-1zM422 621h1v14h-1zM430 621h1v12h-1zM438 621h1v12h-1zM446 621h1v8h-1zM454 621h1v7h-1zM462 621h1v5h-1zM470 621h1v5h-1zM478 621h1v6h-1zM486 621h1v6h-1zM494 621h1v9h-1zM502 621h1v10h-1zM510 621h1v11h-1zM518 621h1v11h-1zM526 621h1v10h-1zM534 621h1v12h-1zM542 621h1v11h-1zM550 621h1v10h-1zM558 621h1v10h-1zM566 621h1v10h-1zM574 621h1v8h-1zM582 621h1v5h-1zM590 621h1v8h-1zM598 621h1v12h-1zM606 621h1v15h-1zM614 621h1v17h-1zM622 621h1v20h-1zM630 621h1v19h-1zM638 621h1v20h-1zM646 621h1v20h-1zM654 621h1v21h-1zM662 621h1v19h-1zM670 621h1v18h-1zM678 621h1v17h-1zM686 621h1v19h-1zM694 621h1v18h-1zM702 621h1v18h-1zM710 621h1v18h-1zM718 621h1v20h-1zM726 621h1v23h-1zM734 621h1v25h-1zM742 621h1v26h-1zM750 621h1v27h-1zM758 621h1v29h-1zM766 621h1v29h-1zM774 621h1v29h-1zM782 621h1v28h-1zM790 621h1v28h-1zM798 621h1v27h-1zM806 621h1v26h-1zM814 621h1v26h-1zM822 621h1v25h-1zM830 621h1v24h-1zM838 621h1v25h-1zM846 621h1v26h-1zM854 621h1v25h-1zM862 621h1v25h-1zM870 621h1v25h-1zM878 621h1v17h-1zM886 621h1v5h-1zM894 620h1v2h-1zM902 610h1v12h-1zM910 603h1v19h-1zM918 600h1v22h-1zM926 604h1v18h-1zM934 606h1v16h-1zM942 608h1v14h-1zM950 609h1v13h-1zM958 611h1v11h-1zM966 613h1v9h-1zM974 616h1v6h-1zM982 616h1v6h-1zM990 618h1v4h-1zM1006 621h1v5h-1zM1014 621h1v7h-1zM1022 621h1v9h-1zM1030 621h1v12h-1zM1038 621h1v15h-1zM1046 621h1v17h-1zM1054 621h1v18h-1zM1062 621h1v17h-1zM1070 621h1v18h-1zM1078 621h1v19h-1zM1086 621h1v18h-1zM1094 621h1v14h-1zM1102 621h1v16h-1zM1110 621h1v11h-1zM1118 621h1v7h-1zM1126 621h1v2h-1zM1134 621h1v1h-1zM1142 621h1v1h-1zM1150 617h1v5h-1zM1158 619h1v3h-1zM1166 620h1v2h-1zM1182 621h1v1h-1zM1190 621h1v2h-1zM1198 621h1v16h-1zM1206 621h1v27h-1zM1214 621h1v43h-1zM1222 621h1v57h-1zM1230 621h1v66h-1zM1238 621h1v75h-1zM1246 621h1v88h-1zM1254 621h1v97h-1zM1262 621h1v108h-1zM1270 621h1v111h-1zM1278 621h1v113h-1zM1286 621h1v109h-1zM1294 621h1v112h-1zM1302 621h1v115h-1zM1310 621h1v124h-1zM1318 621h1v133h-1zM1326 621h1v139h-1zM1334 621h1v142h-1zM1342 621h1v143h-1zM1350 621h1v144h-1zM1358 621h1v146h-1zM1366 621h1v145h-1zM1374 621h1v143h-1zM1382 621h1v143h-1zM1390 621h1v137h-1zM1398 621h1v144h-1zM1406 621h1v148h-1zM1414 621h1v144h-1zM1422 621h1v142h-1zM1430 621h1v136h-1zM1438 621h1v121h-1zM1446 621h1v108h-1zM1454 621h1v96h-1zM1462 621h1v84h-1z" fill="#c0c0c0"/>
<polyline points="2.5,598.8 14.5,595.8 20.5,593.8 40.5,593.8 44.5,594.8 69.0,595.8 77.1,596.8 89.2,596.8 95.2,598.8 111.4,598.8 123.5,596.2 135.5,592.8 143.5,589.8 159.5,585.1 165.8,582.7 173.9,581.7 186.0,581.7 196.1,585.7 208.2,590.8 220.3,596.8 232.4,600.8 238.4,604.9 250.5,607.9 262.5,610.3 272.5,612.9 280.5,615.4 286.8,618.0 296.9,620.0 309.0,626.0 321.1,633.1 333.2,640.1 340.5,643.8 352.5,647.8 358.5,650.2 366.5,651.2 374.8,653.9 382.8,653.9 398.9,651.2 407.0,648.2 417.1,645.2 425.1,643.6 435.2,641.2 447.3,638.1 455.4,634.7 467.5,632.1 481.5,630.5 501.7,629.3 513.8,629.1 529.9,630.1 534.0,631.1 550.1,631.7 572.3,632.7 582.3,632.1 608.5,632.1 622.7,633.5 628.7,635.1 646.8,637.1 663.0,639.7 680.5,641.2 730.9,641.2 747.0,643.2 771.2,646.2 795.4,649.2 825.6,649.6 831.7,648.6 872.0,646.8 882.1,644.8 892.2,641.8 904.3,636.1 916.4,628.5 928.5,621.0 940.5,613.9 952.7,608.9 964.8,606.9 970.8,606.9 989.0,609.5 1001.1,612.9 1009.1,616.0 1020.5,619.0 1022.5,620.7 1036.5,624.8 1054.8,632.2 1070.9,635.8 1085.0,638.9 1101.1,639.9 1115.2,638.5 1131.3,636.2 1143.4,631.8 1161.5,626.4 1173.7,622.7 1191.8,620.7 1203.9,624.4 1216.0,631.8 1228.1,641.9 1240.2,655.0 1252.3,670.1 1262.4,684.2 1270.4,695.3 1280.5,707.4 1292.6,717.5 1304.7,726.5 1316.8,734.0 1328.9,740.0 1341.0,746.1 1348.5,749.6 1360.5,755.3 1372.7,760.7 1384.8,764.2 1401.0,765.4 1417.1,765.8 1431.2,764.8 1441.3,760.7 1451.3,755.7 1461.4,748.0" fill="none" stroke="#ff0000" stroke-width="1" stroke-dasharray="3,3"/>
</g>
<path d="M1394 760L1466 702.5" stroke="#f00" stroke-width="3.2" fill="none"/>
<polygon points="1472.8,696.9 1467.6,708.6 1461.3,699" fill="#f00"/>
<text x="-5.5" y="572.5" font-size="9.9" fill="#000" textLength="153" lengthAdjust="spacingAndGlyphs">MACD(12,26,9) -0.005882 -0.008979</text>
<g shape-rendering="crispEdges" fill="#000"><rect x="1650" y="562" width="2" height="1"/><rect x="1650" y="621" width="2" height="1"/><rect x="1650" y="777" width="2" height="1"/></g>
<g font-size="9.9" fill="#000" lengthAdjust="spacingAndGlyphs"><text x="1653" y="571.3" textLength="34.0" lengthAdjust="spacingAndGlyphs">0.00432</text><text x="1653" y="624.7" textLength="18.3" lengthAdjust="spacingAndGlyphs">0.00</text><text x="1653" y="776" textLength="37.1" lengthAdjust="spacingAndGlyphs">-0.01135</text></g>
<g shape-rendering="crispEdges">
<path d="M0 811.5H1649" stroke="#c0c0c0" stroke-width="1" stroke-dasharray="3,3" stroke-dashoffset="3"/>
<path d="M0 853.5H1649" stroke="#c0c0c0" stroke-width="1" stroke-dasharray="3,3" stroke-dashoffset="3"/>
<path d="M0 902.5H1649" stroke="#c0c0c0" stroke-width="1" stroke-dasharray="3,3" stroke-dashoffset="3"/>
</g>
<g clip-path="url(#cr)" shape-rendering="crispEdges"><polyline points="-1.5,845.0 6.5,852.1 14.5,842.1 22.5,839.1 30.5,846.7 38.5,846.7 46.5,848.7 54.5,851.7 62.5,838.1 70.5,848.7 78.5,846.7 86.5,851.3 94.5,855.1 102.5,837.2 110.5,832.0 118.5,832.0 126.5,830.6 134.5,827.6 142.5,835.6 150.5,849.1 158.5,849.1 166.5,849.1 174.5,850.1 182.5,853.7 190.5,855.7 198.5,851.1 206.5,855.7 214.5,854.1 222.5,852.7 230.5,849.7 238.5,854.7 246.5,851.7 254.5,853.7 262.5,856.7 270.5,861.3 278.5,865.7 286.5,868.7 294.5,876.7 302.5,881.8 310.5,879.8 318.5,877.7 326.5,879.1 334.5,879.8 342.5,861.7 350.5,861.7 358.5,870.7 366.5,873.1 374.5,866.7 382.5,858.1 390.5,847.7 398.5,851.7 406.5,856.1 414.5,854.7 422.5,861.7 430.5,854.7 438.5,858.1 446.5,849.7 454.5,853.7 462.5,850.7 470.5,855.7 478.5,859.3 486.5,856.1 494.5,862.7 502.5,865.1 510.5,865.1 518.5,860.1 526.5,855.1 534.5,865.7 542.5,857.7 550.5,857.7 558.5,858.7 566.5,858.7 574.5,852.7 582.5,849.7 590.5,863.3 598.5,869.7 606.5,870.7 614.5,872.1 622.5,874.1 630.5,863.7 638.5,865.7 646.5,867.7 654.5,870.1 662.5,865.3 670.5,858.7 678.5,862.1 686.5,870.7 694.5,862.7 702.5,864.7 710.5,864.7 718.5,874.7 726.5,877.7 734.5,877.7 742.5,872.7 750.5,876.1 758.5,880.8 766.5,872.7 774.5,870.7 782.5,869.7 790.5,873.7 798.5,873.7 806.5,872.7 814.5,876.7 822.5,870.7 830.5,864.7 838.5,876.7 846.5,876.7 854.5,869.7 862.5,874.7 870.5,874.7 878.5,839.7 886.5,829.6 894.5,826.6 902.5,823.6 910.5,825.6 918.5,832.6 926.5,856.7 934.5,849.7 942.5,853.7 950.5,853.7 958.5,850.7 966.5,853.7 974.5,855.7 982.5,853.7 990.5,855.7 998.5,865.7 1006.5,870.7 1014.5,859.7 1022.5,863.7 1030.5,867.7 1038.5,867.7 1046.5,868.7 1054.5,864.7 1062.5,863.7 1070.5,865.7 1078.5,868.7 1086.5,862.7 1094.5,850.7 1102.5,864.7 1110.5,847.7 1118.5,847.7 1126.5,844.7 1134.5,843.7 1142.5,851.7 1150.5,842.7 1158.5,856.7 1166.5,852.7 1174.5,856.7 1182.5,858.7 1190.5,860.1 1198.5,882.8 1206.5,882.8 1214.5,889.8 1222.5,892.8 1230.5,890.8 1238.5,893.8 1246.5,898.8 1254.5,897.8 1262.5,901.8 1270.5,888.8 1278.5,889.8 1286.5,880.8 1294.5,886.8 1302.5,890.2 1310.5,895.8 1318.5,896.8 1326.5,897.8 1334.5,897.8 1342.5,898.8 1350.5,898.8 1358.5,900.8 1366.5,899.8 1374.5,900.8 1382.5,902.8 1390.5,885.8 1398.5,897.8 1406.5,893.8 1414.5,886.8 1422.5,886.8 1430.5,881.8 1438.5,863.7 1446.5,863.7 1454.5,860.7 1462.5,854.7" fill="none" stroke="#1e90ff" stroke-width="1"/></g>
<path d="M1378.5 897.7L1457 857" stroke="#f00" stroke-width="3.2" fill="none"/>
<polygon points="1466.2,852 1458.6,862.2 1453.8,853" fill="#f00"/>
<text x="-6.3" y="793.5" font-size="9.9" fill="#000" textLength="67.8" lengthAdjust="spacingAndGlyphs">RSI(14) 48.7538</text>
<g shape-rendering="crispEdges" fill="#000">
<rect x="1650" y="783" width="2" height="1"/><rect x="1650" y="923" width="1" height="1"/>
</g>
<g font-size="9.9" fill="#000"><text x="1652.9" y="791.6" textLength="15.7" lengthAdjust="spacingAndGlyphs">100</text><text x="1652.9" y="814.6" textLength="10.5" lengthAdjust="spacingAndGlyphs">80</text><text x="1652.9" y="856.6" textLength="10.5" lengthAdjust="spacingAndGlyphs">50</text><text x="1652.9" y="905.6" textLength="10.5" lengthAdjust="spacingAndGlyphs">15</text><text x="1652.9" y="920.6" textLength="5.2" lengthAdjust="spacingAndGlyphs">0</text></g>
<g shape-rendering="crispEdges" fill="#000">
<rect x="54" y="925" width="1" height="3"/>
<rect x="118" y="925" width="1" height="3"/>
<rect x="182" y="925" width="1" height="3"/>
<rect x="246" y="925" width="1" height="3"/>
<rect x="310" y="925" width="1" height="3"/>
<rect x="374" y="925" width="1" height="3"/>
<rect x="438" y="925" width="1" height="3"/>
<rect x="502" y="925" width="1" height="3"/>
<rect x="566" y="925" width="1" height="3"/>
<rect x="630" y="925" width="1" height="3"/>
<rect x="694" y="925" width="1" height="3"/>
<rect x="758" y="925" width="1" height="3"/>
<rect x="822" y="925" width="1" height="3"/>
<rect x="886" y="925" width="1" height="3"/>
<rect x="950" y="925" width="1" height="3"/>
<rect x="1014" y="925" width="1" height="3"/>
<rect x="1078" y="925" width="1" height="3"/>
<rect x="1142" y="925" width="1" height="3"/>
<rect x="1206" y="925" width="1" height="3"/>
<rect x="1270" y="925" width="1" height="3"/>
<rect x="1334" y="925" width="1" height="3"/>
<rect x="1398" y="925" width="1" height="3"/>
<rect x="1462" y="925" width="1" height="3"/>
</g>
<g font-size="9.9" fill="#000">
<text x="-10.8" y="937" textLength="52.8" lengthAdjust="spacingAndGlyphs">18 Mar 2022</text>
<text x="53.2" y="937" textLength="55.4" lengthAdjust="spacingAndGlyphs">21 Mar 08:00</text>
<text x="117.2" y="937" textLength="55.4" lengthAdjust="spacingAndGlyphs">22 Mar 16:00</text>
<text x="181.2" y="937" textLength="55.4" lengthAdjust="spacingAndGlyphs">24 Mar 00:00</text>
<text x="245.2" y="937" textLength="55.4" lengthAdjust="spacingAndGlyphs">25 Mar 08:00</text>
<text x="309.2" y="937" textLength="55.4" lengthAdjust="spacingAndGlyphs">28 Mar 16:00</text>
<text x="373.2" y="937" textLength="55.4" lengthAdjust="spacingAndGlyphs">30 Mar 00:00</text>
<text x="437.2" y="937" textLength="55.4" lengthAdjust="spacingAndGlyphs">31 Mar 08:00</text>
<text x="501.2" y="937" textLength="48.6" lengthAdjust="spacingAndGlyphs">1 Apr 16:00</text>
<text x="565.2" y="937" textLength="48.6" lengthAdjust="spacingAndGlyphs">5 Apr 00:00</text>
<text x="629.2" y="937" textLength="48.6" lengthAdjust="spacingAndGlyphs">6 Apr 08:00</text>
<text x="693.2" y="937" textLength="48.6" lengthAdjust="spacingAndGlyphs">7 Apr 16:00</text>
<text x="757.2" y="937" textLength="53.8" lengthAdjust="spacingAndGlyphs">11 Apr 00:00</text>
<text x="821.2" y="937" textLength="53.8" lengthAdjust="spacingAndGlyphs">12 Apr 08:00</text>
<text x="885.2" y="937" textLength="53.8" lengthAdjust="spacingAndGlyphs">13 Apr 16:00</text>
<text x="949.2" y="937" textLength="53.8" lengthAdjust="spacingAndGlyphs">15 Apr 00:00</text>
<text x="1013.2" y="937" textLength="53.8" lengthAdjust="spacingAndGlyphs">18 Apr 08:00</text>
<text x="1077.2" y="937" textLength="53.8" lengthAdjust="spacingAndGlyphs">19 Apr 16:00</text>
<text x="1141.2" y="937" textLength="53.8" lengthAdjust="spacingAndGlyphs">21 Apr 00:00</text>
<text x="1205.2" y="937" textLength="53.8" lengthAdjust="spacingAndGlyphs">22 Apr 08:00</text>
<text x="1269.2" y="937" textLength="53.8" lengthAdjust="spacingAndGlyphs">25 Apr 16:00</text>
<text x="1333.2" y="937" textLength="53.8" lengthAdjust="spacingAndGlyphs">27 Apr 00:00</text>
<text x="1397.2" y="937" textLength="53.8" lengthAdjust="spacingAndGlyphs">28 Apr 08:00</text>
<text x="1461.2" y="937" textLength="53.8" lengthAdjust="spacingAndGlyphs">29 Apr 16:00</text>
</g>
<g id="panel">
<g shape-rendering="crispEdges">
<rect x="0" y="43" width="212" height="57" fill="#fff"/>
<rect x="0" y="43" width="45" height="24" fill="url(#gs)"/>
<rect x="44" y="43" width="1" height="24" fill="#1414b4"/><rect x="0" y="43" width="45" height="1" fill="#1c1cc0"/>
<rect x="160" y="43" width="52" height="24" fill="url(#gs)"/>
<rect x="160" y="43" width="1" height="24" fill="#1414b4"/><rect x="160" y="43" width="52" height="1" fill="#1c1cc0"/><rect x="211" y="43" width="1" height="57" fill="#1414b4"/>
<rect x="0" y="67" width="102" height="33" fill="url(#gp)"/>
<rect x="104" y="67" width="108" height="33" fill="url(#gp)"/>
<rect x="44" y="67" width="58" height="1" fill="#0a0aa8"/><rect x="104" y="67" width="57" height="1" fill="#0a0aa8"/>
<rect x="101" y="67" width="1" height="33" fill="#0a0aa0"/><rect x="104" y="67" width="1" height="33" fill="#0a0aa0"/>
<rect x="0" y="99" width="102" height="1" fill="#000090"/><rect x="104" y="99" width="108" height="1" fill="#000090"/>
<rect x="0" y="66" width="41" height="1" fill="#1a1aa6"/><rect x="0" y="67" width="41" height="1" fill="#5a5aea"/>
<rect x="164" y="66" width="44" height="1" fill="#1a1aa6"/><rect x="164" y="67" width="44" height="1" fill="#5a5aea"/>
<rect x="47.5" y="43.5" width="110" height="21" fill="#fff" stroke="#a8a8a8" stroke-width="1"/>
<rect x="49" y="45" width="19" height="18" fill="url(#gb)"/><rect x="68" y="44" width="1" height="20" fill="#a8a8a8"/>
<rect x="138" y="45" width="19" height="18" fill="url(#gb)"/><rect x="137" y="44" width="1" height="20" fill="#a8a8a8"/>
</g>
<path d="M55 51.5H60.5L57.75 54.8Z" fill="#4a5ab8"/><path d="M144.2 54.5H150L147.1 51.2Z" fill="#4a5ab8"/>
<text x="109" y="58" font-size="12.3" fill="#000">1.00</text>
<text x="5.4" y="59" font-size="12.3" fill="#fff" textLength="25.8" lengthAdjust="spacingAndGlyphs">SELL</text>
<text x="173" y="59" font-size="12.3" fill="#fff" textLength="24.4" lengthAdjust="spacingAndGlyphs">BUY</text>
<text x="13.3" y="94.6" font-size="11.8" font-weight="bold" fill="#fff">1.25</text>
<text x="123.3" y="94.6" font-size="11.8" font-weight="bold" fill="#fff">1.25</text>
<text x="40" y="94.4" font-size="33.5" fill="#fff" textLength="35.5" lengthAdjust="spacingAndGlyphs">97</text>
<text x="151" y="94.4" font-size="33.5" fill="#fff" textLength="35.5" lengthAdjust="spacingAndGlyphs">99</text>
<text x="80" y="79" font-size="12.3" fill="#fff">7</text>
<text x="191" y="79" font-size="12.3" fill="#fff">6</text>
</g>
</svg></body></html>
